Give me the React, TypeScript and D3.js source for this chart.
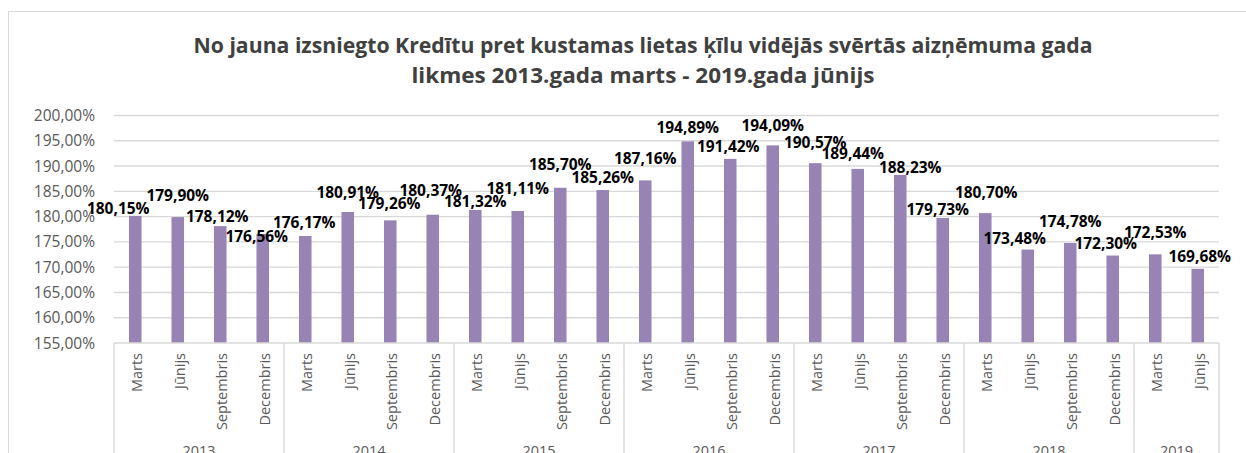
import React from "react";
import * as d3 from "d3";

const titleLines = [
  "No jauna izsniegto Kredītu pret kustamas lietas ķīlu vidējās svērtās aizņēmuma gada",
  "likmes 2013.gada marts - 2019.gada jūnijs",
];

const years = ["2013", "2014", "2015", "2016", "2017", "2018", "2019"];
const monthsPerYear = [
  ["Marts", "Jūnijs", "Septembris", "Decembris"],
  ["Marts", "Jūnijs", "Septembris", "Decembris"],
  ["Marts", "Jūnijs", "Septembris", "Decembris"],
  ["Marts", "Jūnijs", "Septembris", "Decembris"],
  ["Marts", "Jūnijs", "Septembris", "Decembris"],
  ["Marts", "Jūnijs", "Septembris", "Decembris"],
  ["Marts", "Jūnijs"],
];

const values = [
  180.15, 179.9, 178.12, 176.56,
  176.17, 180.91, 179.26, 180.37,
  181.32, 181.11, 185.7, 185.26,
  187.16, 194.89, 191.42, 194.09,
  190.57, 189.44, 188.23, 179.73,
  180.7, 173.48, 174.78, 172.3,
  172.53, 169.68,
];

const yTicks = [155, 160, 165, 170, 175, 180, 185, 190, 195, 200];

// label placement (px, relative to bar centre / bar top) as in the reference
const labelDx = [-17, 0, -3, -6, -1, 0, -1, -2, 0, 0, 0, 0, 0, 0, -2, 0, 0, -5, 10, -5, 1, -13, 0, -7, 0, 2];
const labelDy = [-7, -22, -10, 2, -13.5, -20, -17, -24, -8, -22, -23, -13, -22, -14, -12.6, -20, -21, -15, -8, -8, -21, -11.5, -21.5, -12, -22, -12];

const fmt = (v: number) => v.toFixed(2).replace(".", ",") + "%";

export default function App() {
  const W = 1246;
  const H = 453;
  const left = 114;
  const right = 1219;
  const top = 115.5;
  const bottom = 343;

  const cats: { year: string; month: string; key: string }[] = [];
  years.forEach((y, yi) => monthsPerYear[yi].forEach((m) => cats.push({ year: y, month: m, key: y + "-" + m })));

  const x = d3.scaleBand<string>().domain(cats.map((c) => c.key)).range([left, right]).padding(0);
  const y = d3.scaleLinear().domain([155, 200]).range([bottom, top]);
  const step = x.step();
  const barW = step * 0.295;

  const font = "'Open Sans', sans-serif";
  const grey = "#595959";
  const gridC = "#d9d9d9";

  let idx = 0;
  const groups = years.map((yr, yi) => {
    const start = idx;
    idx += monthsPerYear[yi].length;
    return { yr, x0: x(cats[start].key)!, x1: x(cats[idx - 1].key)! + step };
  });

  return (
    <svg
      width={W}
      height={H}
      style={{ position: "absolute", left: 0, top: 0, background: "#fff" }}
      fontFamily={font}
    >
      <rect x={0} y={0} width={W} height={H} fill="#fff" />
      <rect x={8.5} y={11.5} width={W + 20} height={H + 20} fill="none" stroke={gridC} strokeWidth={1} />

      {titleLines.map((t, i) => (
        <text
          key={i}
          x={643}
          y={53 + i * 30}
          textAnchor="middle"
          fontSize={21}
          fontWeight="bold"
          fill="#404040"
          textLength={i === 0 ? 899 : 463}
          lengthAdjust="spacingAndGlyphs"
        >
          {t}
        </text>
      ))}

      {yTicks.map((t) => (
        <g key={t}>
          {t !== 155 && (
            <line x1={left} x2={right} y1={y(t)} y2={y(t)} stroke={gridC} strokeWidth={1.4} />
          )}
          <text x={95} y={y(t) + 5.6} textAnchor="end" fontSize={15.5} fill={grey}>
            {fmt(t)}
          </text>
        </g>
      ))}

      {cats.map((c, i) => {
        const cx = x(c.key)! + step / 2;
        return (
          <rect
            key={c.key}
            x={cx - barW / 2}
            y={y(values[i])}
            width={barW}
            height={y(155) - y(values[i])}
            fill="#9883b5"
          />
        );
      })}

      <line x1={left} x2={right} y1={bottom} y2={bottom} stroke={gridC} strokeWidth={1.4} />
      {groups.map((g, gi) => (
        <g key={g.yr}>
          <line x1={g.x0} x2={g.x0} y1={bottom} y2={H + 5} stroke={gridC} strokeWidth={1.4} />
          {gi === groups.length - 1 && (
            <line x1={g.x1} x2={g.x1} y1={bottom} y2={H + 5} stroke={gridC} strokeWidth={1.4} />
          )}
          <text x={(g.x0 + g.x1) / 2} y={455.5} textAnchor="middle" fontSize={14.5} fill={grey}>
            {g.yr}
          </text>
        </g>
      ))}

      {cats.map((c) => {
        const cx = x(c.key)! + step / 2;
        return (
          <text
            key={"m" + c.key}
            transform={`translate(${cx + 7},${353}) rotate(-90)`}
            textAnchor="end"
            fontSize={14.5}
            fill={grey}
          >
            {c.month}
          </text>
        );
      })}

      {cats.map((c, i) => {
        const cx = x(c.key)! + step / 2;
        return (
          <text
            key={"l" + c.key}
            x={cx + labelDx[i]}
            y={y(values[i]) + labelDy[i] + 5.5}
            textAnchor="middle"
            fontSize={15.5}
            fontWeight="bold"
            fill="#000"
          >
            {fmt(values[i])}
          </text>
        );
      })}
    </svg>
  );
}
